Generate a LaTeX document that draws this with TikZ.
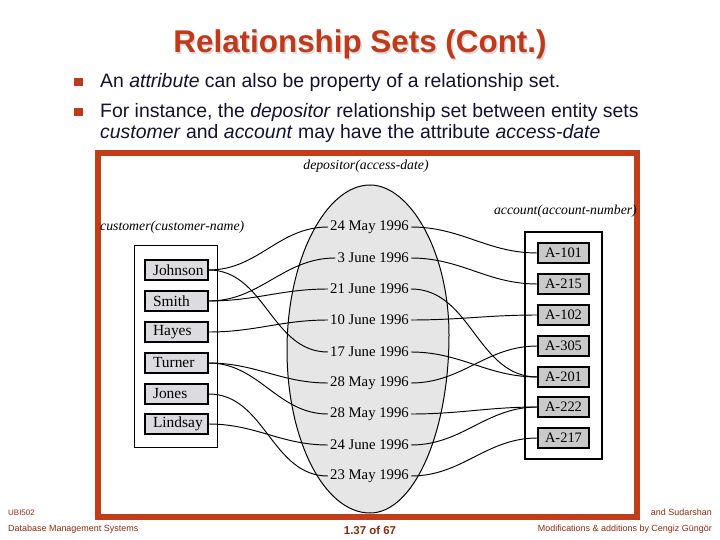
\documentclass[tikz,border=0pt]{standalone}
\usepackage{fontspec}
\setmainfont{Liberation Serif}
\newfontfamily\arial{Liberation Sans}
\definecolor{framered}{HTML}{C23D18}
\definecolor{titlered}{HTML}{C0391B}
\definecolor{footred}{HTML}{8E2A0C}
\definecolor{bodyink}{HTML}{12122E}
\definecolor{custfill}{HTML}{DCDCE0}
\definecolor{accfill}{HTML}{C9C9C9}
\definecolor{eggfill}{HTML}{E6E6E6}
\tikzset{
  custbox/.style={draw, line width=1.2bp, fill=custfill, text width=55bp, align=left,
     inner xsep=4bp, inner ysep=0pt, minimum height=20bp, font=\fontsize{15.5}{17}\selectfont},
  accbox/.style={draw, line width=1.2bp, fill=accfill, minimum width=51bp, inner sep=0pt,
     minimum height=20bp, font=\fontsize{14.5}{16}\selectfont},
  datelbl/.style={anchor=east, inner xsep=2bp, inner ysep=2bp, font=\fontsize{14.8}{16}\selectfont},
  setlbl/.style={font=\fontsize{13.8}{15}\selectfont\itshape, inner sep=0pt},
  conn/.style={line width=0.95bp},
  bodytxt/.style={anchor=base west, inner sep=0pt, text=bodyink, font=\arial\fontsize{19.5}{22}\selectfont},
  bullet/.style={fill=titlered, minimum width=8.5bp, minimum height=8bp, inner sep=0pt},
  foot/.style={inner sep=0pt, text=footred, font=\arial\fontsize{9}{10}\selectfont}
}
\begin{document}
\begin{tikzpicture}[x=1bp,y=-1bp]
\useasboundingbox (0,0) rectangle (720,540);
% title
\node[anchor=base, inner sep=0pt, text=black!15, font=\arial\bfseries\fontsize{31.5}{34}\selectfont] (titleshadow) at (361.5,54.5) {Relationship Sets (Cont.)};
\node[anchor=base, inner sep=0pt, text=titlered, font=\arial\bfseries\fontsize{31.5}{34}\selectfont] (title) at (360,53) {Relationship Sets (Cont.)};
% bullets
\node[bullet] (b1) at (78.5,82) {};
\node[bullet] (b2) at (78.5,112) {};
\node[bodytxt] (t1) at (100,88) {An \textit{attribute} can also be property of a relationship set.};
\node[bodytxt] (t2) at (100,118) {For instance, the \textit{depositor} relationship set between entity sets};
\node[bodytxt] (t3) at (100,139) {\textit{customer} and \textit{account} may have the attribute \textit{access-date}};
% frame
\draw[line width=6.5bp, framered] (98,153) rectangle (637,517);
% egg
\draw[line width=1bp, fill=eggfill] (370,185) .. controls (410,185) and (449,252) .. (449,335)
  .. controls (449,433) and (413.6,513) .. (370,513)
  .. controls (324.2,513) and (287,440) .. (287,350)
  .. controls (287,259) and (326,185) .. (370,185) -- cycle;
% labels
\node[setlbl, anchor=base] (deplbl) at (366,170) {depositor(access-date)};
\node[setlbl, anchor=base west] (custlbl) at (100,231) {customer(customer-name)};
\node[setlbl, anchor=base east] (acclbl) at (637,215) {account(account-number)};
% customer set
\draw[line width=1bp] (134,246) rectangle (217,447);
\node[custbox] (john) at (176.5,270) {\hspace*{4bp}Johnson};
\node[custbox] (smith) at (176.5,301) {\hspace*{4bp}Smith};
\node[custbox] (hayes) at (176.5,332) {\hspace*{4bp}Hayes};
\node[custbox] (turner) at (176.5,363) {\hspace*{4bp}Turner};
\node[custbox] (jones) at (176.5,394) {\hspace*{4bp}Jones};
\node[custbox] (lindsay) at (176.5,424) {\hspace*{4bp}Lindsay};
% account set
\draw[line width=1.4bp] (525,232) rectangle (602,459);
\node[accbox] (a101) at (563.5,253) {A-101};
\node[accbox] (a215) at (563.5,284) {A-215};
\node[accbox] (a102) at (563.5,315) {A-102};
\node[accbox] (a305) at (563.5,346) {A-305};
\node[accbox] (a201) at (563.5,377) {A-201};
\node[accbox] (a222) at (563.5,407) {A-222};
\node[accbox] (a217) at (563.5,438) {A-217};
% dates
\node[datelbl] (d1) at (411,227) {24 May 1996};
\node[datelbl] (d2) at (411,258) {3 June 1996};
\node[datelbl] (d3) at (411,289) {21 June 1996};
\node[datelbl] (d4) at (411,320) {10 June 1996};
\node[datelbl] (d5) at (411,352) {17 June 1996};
\node[datelbl] (d6) at (411,383) {28 May 1996};
\node[datelbl] (d7) at (411,414) {28 May 1996};
\node[datelbl] (d8) at (411,445) {24 June 1996};
\node[datelbl] (d9) at (411,476) {23 May 1996};
% connectors
\foreach \c/\d in {john/d1, john/d5, smith/d2, smith/d3, hayes/d4, turner/d6, turner/d7, jones/d9, lindsay/d8}
  \draw[conn] (\c.east) to[out=0,in=180] (\d.west);
\foreach \d/\a in {d1/a101, d2/a215, d3/a201, d4/a102, d5/a201, d6/a305, d7/a222, d8/a222, d9/a217}
  \draw[conn] (\d.east) to[out=0,in=180] (\a.west);
% footer
\node[foot, anchor=base west, font=\arial\fontsize{8}{9}\selectfont] (f1) at (8,515) {UBI502};
\node[foot, anchor=base west] (f2) at (8,531) {Database Management Systems};
\node[foot, anchor=base, font=\arial\bfseries\fontsize{11.5}{13}\selectfont] (f3) at (370,534) {1.37 of 67};
\node[foot, anchor=base east] (f4) at (712,515) {and Sudarshan};
\node[foot, anchor=base east] (f5) at (712,531) {Modifications \& additions by Cengiz Güngör};
\end{tikzpicture}
\end{document}
